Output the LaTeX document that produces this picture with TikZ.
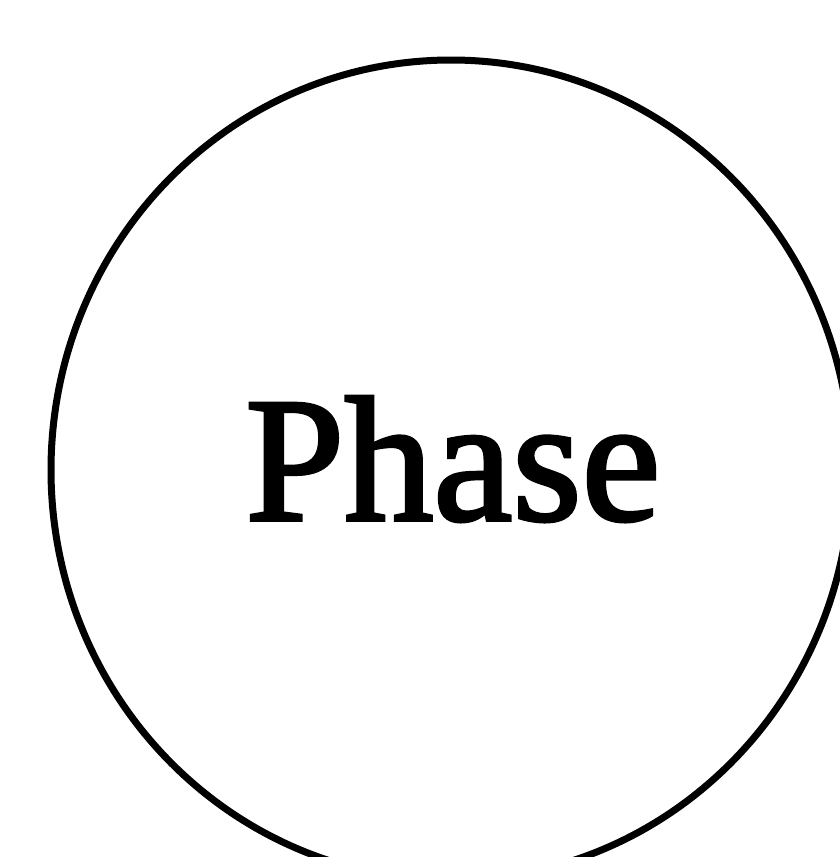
\documentclass[tikz,border=0pt]{standalone}
\usepackage{fontspec}
\setmainfont{Liberation Serif}
\newfontfamily\heavyserif[FakeBold=2]{Liberation Serif}
\usetikzlibrary{shapes.geometric}
\begin{document}
\begin{tikzpicture}[x=1pt,y=1pt,
  phaseoval/.style={draw=black, line width=7pt, ellipse, minimum width=800pt, minimum height=820pt, inner sep=0pt},
  phaselabel/.style={font=\heavyserif\fontsize{178}{178}\selectfont, inner sep=0pt, anchor=base}]
\useasboundingbox (0,0) rectangle (839,-857);
\node[phaseoval] (ring) at (451,-470) {};
\node[phaselabel] (label) at (453,-520) {Phase};
\end{tikzpicture}
\end{document}
